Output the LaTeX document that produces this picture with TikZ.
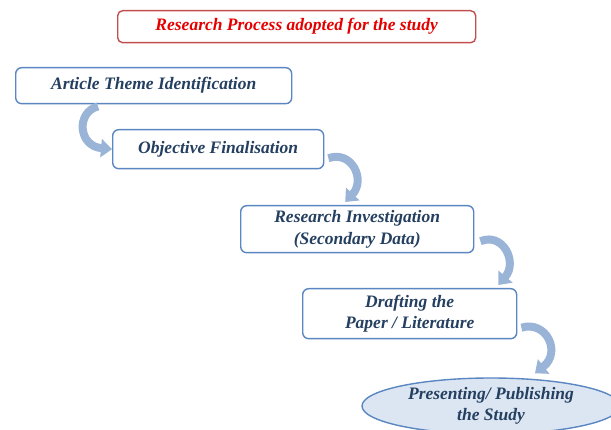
\documentclass[tikz,border=0pt]{standalone}
\usepackage{fontspec}
\setmainfont{Liberation Serif}
\usetikzlibrary{calc,arrows.meta,shapes.geometric}
\definecolor{boxblue}{HTML}{5A86C2}
\definecolor{navy}{HTML}{243F60}
\definecolor{titlered}{HTML}{C0504D}
\definecolor{arrowblue}{HTML}{9AB4D8}
\definecolor{ellfill}{HTML}{DCE6F2}
\tikzset{
  labelfont/.style={font=\bfseries\itshape\fontsize{17.5}{21.5}\selectfont},
  stepbox/.style={draw=boxblue, line width=1.4pt, rounded corners=6pt, fill=white,
    text=navy, labelfont, align=center, inner sep=0pt, anchor=north west},
  flowarrow/.style={draw=arrowblue, line width=8pt,
    -{Triangle[length=11pt,width=18pt]}},
}
\begin{document}
\begin{tikzpicture}[x=1pt,y=-1pt]
\useasboundingbox (0,0) rectangle (611,430);
\clip (0,0) rectangle (611,430);

% heading
\node[draw=titlered, line width=1.4pt, rounded corners=5pt, minimum width=358pt,
  minimum height=32pt, text=red!90!black, labelfont,
  anchor=north west] (title) at (117,10) {Research Process adopted for the study};

% process steps
\node[stepbox, minimum width=276pt, minimum height=36pt] (b1) at (15,67) {Article Theme Identification};
\node[stepbox, minimum width=211pt, minimum height=39pt] (b2) at (112,129) {Objective Finalisation};
\node[stepbox, minimum width=233pt, minimum height=47pt] (b3) at (240,205) {Research Investigation\\(Secondary Data)};
\node[stepbox, minimum width=214pt, minimum height=50pt] (b4) at (302,288) {Drafting the\\Paper / Literature};
\node[ellipse, draw=boxblue, line width=1.4pt, fill=ellfill, minimum width=258pt,
  minimum height=56pt, text=navy, labelfont,
  align=center, inner sep=0pt] (el) at (491,406) {Presenting/ Publishing\\the Study};

% curved arrows between the steps
\draw[flowarrow] ($(b1.south west)+(83,2)$) .. controls (76,112) and (78,146) .. (b2.west);
\draw[flowarrow] ($(b2.east)+(4,9)$) .. controls (352,150) and (366,180) .. ($(b3.north)+(-12,-3)$);
\draw[flowarrow] ($(b3.east)+(6,12)$) .. controls (503,232) and (518,262) .. ($(b4.north east)+(-19,-3)$);
\draw[flowarrow] ($(b4.east)+(4,14)$) .. controls (546,320) and (562,352) .. ($(el.north)+(44,-4)$);
\end{tikzpicture}
\end{document}
